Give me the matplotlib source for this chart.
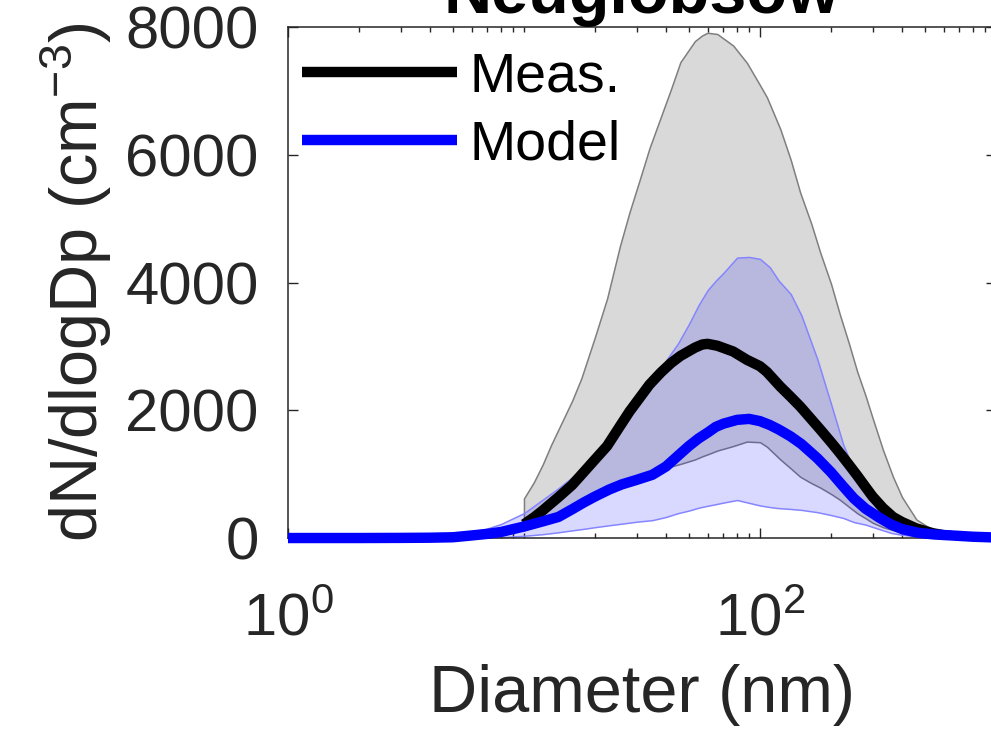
import numpy as np
import matplotlib
matplotlib.use("Agg")
import matplotlib.pyplot as plt
from matplotlib.ticker import FixedLocator, LogLocator, NullFormatter

plt.rcParams['font.family'] = ['Liberation Sans', 'DejaVu Sans']
plt.rcParams['mathtext.fontset'] = 'custom'
plt.rcParams['mathtext.rm'] = 'Liberation Sans'
plt.rcParams['mathtext.it'] = 'Liberation Sans:italic'
plt.rcParams['mathtext.bf'] = 'Liberation Sans:bold'

# measured size distribution (mean and spread), diameters in nm
d_meas = [10, 11, 12, 13, 14, 16, 17.5, 20, 22.5, 25.5, 28, 31, 34, 38, 42, 46, 53,
          57, 60, 66, 77, 88, 100, 107, 122, 135, 148, 165, 180, 200, 218, 238, 258,
          280, 300, 332, 366, 400, 460, 540, 600, 650]
meas_mean = [215, 320, 430, 540, 640, 830, 990, 1230, 1440, 1750, 1980, 2200, 2400,
             2590, 2740, 2850, 2980, 3030, 3040, 3010, 2920, 2790, 2690, 2600, 2370,
             2210, 2060, 1860, 1700, 1500, 1330, 1150, 980, 800, 650, 470, 330, 250,
             150, 75, 45, 30]
meas_hi = [620, 870, 1150, 1450, 1700, 2150, 2500, 3150, 3750, 4570, 5100, 5620, 6100,
           6590, 7030, 7450, 7780, 7870, 7910, 7890, 7710, 7440, 7090, 6900, 6400,
           5920, 5410, 4920, 4470, 3980, 3500, 3050, 2610, 2230, 1880, 1380, 960,
           640, 290, 126, 80, 50]
meas_lo = [120, 190, 260, 330, 400, 490, 600, 680, 760, 840, 880, 920, 990, 1070,
           1120, 1160, 1230, 1280, 1310, 1370, 1440, 1510, 1500, 1430, 1230, 1090,
           960, 860, 790, 690, 600, 490, 390, 310, 240, 170, 125, 90, 40, 15, 8, 0]

# modelled size distribution
d_model = [1, 2, 3, 4, 5, 6, 7, 8, 10, 12, 14, 16, 18, 20, 23, 26, 30, 35, 40, 45,
           50, 55, 60, 65, 70, 80, 90, 100, 110, 120, 135, 150, 175, 200, 225, 250,
           280, 320, 360, 400, 470, 550, 650, 800, 1000]
model_mean = [0, 0, 2, 5, 12, 40, 65, 95, 180, 260, 330, 450, 560, 650, 760, 840, 910,
              990, 1120, 1290, 1440, 1560, 1650, 1740, 1790, 1850, 1865, 1830, 1770,
              1700, 1590, 1470, 1250, 1030, 810, 620, 460, 320, 210, 140, 80, 55, 40,
              20, 8]
model_hi = [0, 0, 5, 15, 40, 90, 150, 220, 390, 600, 780, 950, 1130, 1300, 1600, 1890,
            2180, 2510, 2780, 3050, 3350, 3650, 3880, 4030, 4150, 4390, 4400, 4370,
            4240, 4030, 3820, 3480, 2800, 2100, 1470, 1060, 700, 420, 250, 170, 110,
            70, 45, 25, 10]
model_lo = [0, 0, 0, 0, 1, 3, 6, 12, 35, 60, 90, 120, 145, 170, 200, 225, 255, 280,
            330, 390, 430, 475, 505, 530, 555, 595, 550, 510, 485, 468, 455, 440, 405,
            360, 315, 250, 210, 140, 80, 50, 25, 10, 5, 2, 0]

axis_color = '#262626'

fig = plt.figure(figsize=(9.91, 7.42), dpi=100)
ax = fig.add_axes([0.2906, 0.2749, 0.7144, 0.6887])

ax.fill_between(d_meas, meas_lo, meas_hi, facecolor='#d9d9d9',
                edgecolor='#7f7f7f', linewidth=1.1, zorder=1)
ax.fill_between(d_model, model_lo, model_hi, facecolor=(0, 0, 1, 0.15),
                edgecolor='#8585ff', linewidth=1.1, zorder=2)
ax.plot(d_meas, meas_mean, color='black', linewidth=7.5, label='Meas.',
        solid_capstyle='butt', solid_joinstyle='round', zorder=3)
ax.plot(d_model, model_mean, color='blue', linewidth=7.5, label='Model',
        solid_capstyle='butt', solid_joinstyle='round', clip_on=False, zorder=4)

ax.set_xscale('log')
ax.set_xlim(1, 1000)
ax.set_ylim(0, 8000)

ax.xaxis.set_major_locator(FixedLocator([1, 100]))
ax.xaxis.set_minor_locator(LogLocator(base=10, subs=np.arange(1, 10), numticks=20))
ax.xaxis.set_minor_formatter(NullFormatter())
ax.set_xticklabels([r'$\mathregular{10^{0}}$', r'$\mathregular{10^{2}}$'])
ax.set_yticks([0, 2000, 4000, 6000, 8000])

ax.tick_params(which='both', direction='in', top=True, right=True,
               colors=axis_color, labelsize=43, width=1.0)
ax.tick_params(which='major', length=7.5)
ax.tick_params(which='minor', length=3.8)
ax.tick_params(axis='x', pad=39)
ax.tick_params(axis='y', pad=21)
for s in ax.spines.values():
    s.set_color(axis_color)
    s.set_linewidth(1.1)

ax.set_xlabel('Diameter (nm)', fontsize=48, color=axis_color, labelpad=12)
ax.set_ylabel(r'dN/dlogDp (cm$\mathregular{^{-3}}$)', fontsize=48,
              color=axis_color, labelpad=8)
ax.set_title('Neuglobsow', fontsize=48, fontweight='bold', pad=7)

ax.legend(loc='upper left', bbox_to_anchor=(0.0, 0.98), frameon=False,
          fontsize=40, handlelength=2.8, handletextpad=0.22, labelspacing=0.3,
          borderaxespad=0.1, borderpad=0.15)

fig.savefig('out.png', dpi=100)
